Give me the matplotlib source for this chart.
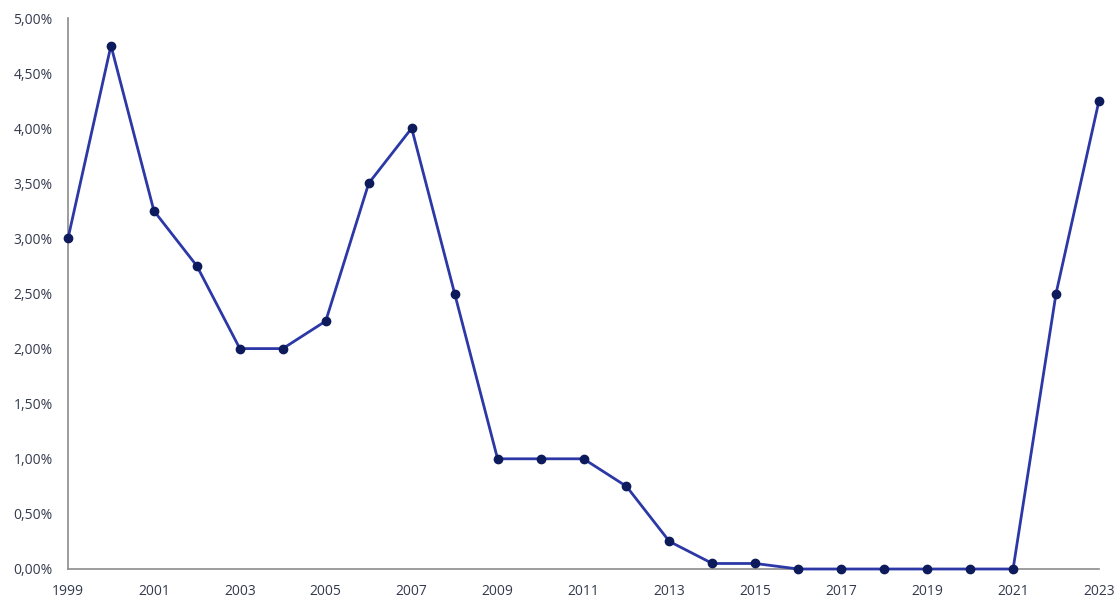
import matplotlib.pyplot as plt
import matplotlib.ticker as mticker

plt.rcParams['font.family'] = ['Open Sans', 'DejaVu Sans']

years = list(range(1999, 2024))
rates = [3.00, 4.75, 3.25, 2.75, 2.00, 2.00, 2.25, 3.50, 4.00, 2.50,
         1.00, 1.00, 1.00, 0.75, 0.25, 0.05, 0.05, 0.00, 0.00, 0.00,
         0.00, 0.00, 0.00, 2.50, 4.25]
tick_years = list(range(1999, 2024, 2))
y_ticks = [0, 0.5, 1, 1.5, 2, 2.5, 3, 3.5, 4, 4.5, 5]

LINE_COLOR = '#2b38a6'
MARK_COLOR = '#0d1b5c'
AXIS_COLOR = '#8c8c8c'
TEXT_COLOR = '#333a4d'

fig = plt.figure(figsize=(11.19, 5.98), dpi=100)
ax = fig.add_axes([68 / 1119, 1 - 569 / 598, (1099 - 68) / 1119, (569 - 18) / 598])

ax.plot(years, rates, color=LINE_COLOR, linewidth=2.0, marker='o',
        markersize=6, markerfacecolor=MARK_COLOR, markeredgecolor=MARK_COLOR,
        clip_on=False, zorder=3)

ax.set_xlim(1999, 2023)
ax.set_ylim(0, 5)
ax.set_xticks(tick_years)
ax.set_yticks(y_ticks)
ax.yaxis.set_major_formatter(mticker.FuncFormatter(lambda v, _: f'{v:.2f}%'.replace('.', ',')))

for side in ['top', 'right']:
    ax.spines[side].set_visible(False)
for side in ['left', 'bottom']:
    ax.spines[side].set_color(AXIS_COLOR)
    ax.spines[side].set_linewidth(1.2)

ax.tick_params(axis='both', length=0, labelsize=10, labelcolor=TEXT_COLOR)
ax.tick_params(axis='x', pad=11)
ax.tick_params(axis='y', pad=11)

fig.savefig('out.png', dpi=100)
